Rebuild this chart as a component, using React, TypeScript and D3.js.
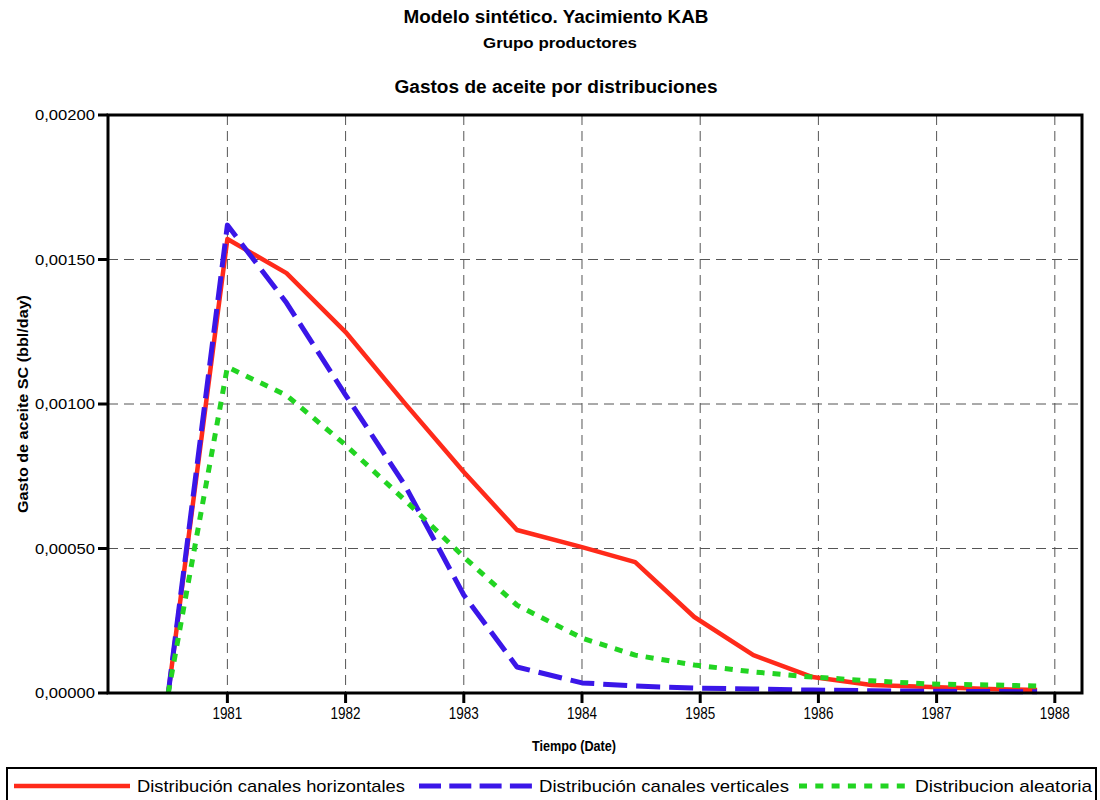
import * as d3 from "d3";

const W = 1100;
const H = 800;
const ML = 108;
const MR = 1082;
const MT = 115;
const MB = 693;

// decimal years of the simulation report steps
const times = [
  1980.5, 1981.0, 1981.5, 1982.0, 1982.5, 1983.0, 1983.45, 1984.0, 1984.45,
  1984.95, 1985.45, 1985.95, 1986.45, 1986.95, 1987.45, 1987.85,
];

const horizontales = [
  0, 0.001571, 0.001453, 0.001249, 0.001003, 0.000765, 0.000564, 0.000505,
  0.000453, 0.000263, 0.000131, 0.000055, 0.000028, 0.000021, 0.000014,
  0.00001,
];

const verticales = [
  0, 0.001619, 0.00135, 0.001031, 0.00072, 0.000339, 0.00009, 0.000035,
  0.000024, 0.000017, 0.000014, 0.00001, 0.000008, 0.000006, 0.000005,
  0.000004,
];

const aleatoria = [
  0, 0.001128, 0.00103, 0.000858, 0.000668, 0.000471, 0.000304, 0.00019,
  0.000131, 0.000097, 0.000073, 0.000055, 0.000042, 0.000031, 0.000028,
  0.000024,
];

const yearTicks = [1981, 1982, 1983, 1984, 1985, 1986, 1987, 1988];
const rateTicks = [0, 0.0005, 0.001, 0.0015, 0.002];

const seriesNames = [
  "Distribución canales horizontales",
  "Distribución canales verticales",
  "Distribucion aleatoria",
];

const esLocale = d3.formatLocale({
  decimal: ",",
  thousands: ".",
  grouping: [3],
  currency: ["", ""],
});
const fmt = esLocale.format(".5f");

export default function App() {
  const x = d3.scaleLinear().domain([1979.99, 1988.23]).range([ML, MR]);
  const y = d3.scaleLinear().domain([0, 0.002]).range([MB, MT]);

  const line = (vals: number[]) =>
    d3
      .line<number>()
      .x((_, i) => x(times[i]))
      .y((d) => y(d))(vals) ?? "";

  const series = [
    { vals: horizontales, color: "#ff2a1a", width: 4.5, dash: undefined },
    { vals: verticales, color: "#3a16e8", width: 5, dash: "24 9" },
    { vals: aleatoria, color: "#22d422", width: 5, dash: "8 8" },
  ];

  const legendItems = [
    { x0: 14, x1: 130, tx: 137, tl: 268 },
    { x0: 419, x1: 532, tx: 539, tl: 250 },
    { x0: 799, x1: 905, tx: 915, tl: 177 },
  ];

  return (
    <svg
      width={W}
      height={H}
      style={{
        position: "absolute",
        left: 0,
        top: 0,
        fontFamily: "'Liberation Sans', Arial, sans-serif",
        background: "#fff",
      }}
    >
      <rect width={W} height={H} fill="#fff" />
      <g fontWeight="bold" textAnchor="middle" fill="#000">
        <text x={556} y={23} fontSize={18} textLength={305} lengthAdjust="spacingAndGlyphs">
          Modelo sintético. Yacimiento KAB
        </text>
        <text x={560} y={48} fontSize={14} textLength={154} lengthAdjust="spacingAndGlyphs">
          Grupo productores
        </text>
        <text x={556} y={93} fontSize={18} textLength={323} lengthAdjust="spacingAndGlyphs">
          Gastos de aceite por distribuciones
        </text>
      </g>

      {/* grid */}
      <g stroke="#555" strokeWidth={1} strokeDasharray="10 6">
        {yearTicks.map((t) => (
          <line key={`gx${t}`} x1={x(t)} x2={x(t)} y1={MT} y2={MB} />
        ))}
        {rateTicks.slice(1, -1).map((t) => (
          <line key={`gy${t}`} x1={ML} x2={MR} y1={y(t)} y2={y(t)} />
        ))}
      </g>

      {/* series */}
      {series.map((s, i) => (
        <path
          key={i}
          d={line(s.vals)}
          fill="none"
          stroke={s.color}
          strokeWidth={s.width}
          strokeDasharray={s.dash}
          strokeLinejoin="round"
        />
      ))}

      {/* frame */}
      <rect
        x={ML}
        y={MT}
        width={MR - ML}
        height={MB - MT}
        fill="none"
        stroke="#000"
        strokeWidth={3}
      />

      {/* y axis */}
      <g>
        {rateTicks.map((t) => (
          <g key={`ty${t}`}>
            <line x1={ML - 10} x2={ML} y1={y(t)} y2={y(t)} stroke="#000" strokeWidth={3} />
            <text
              x={95}
              y={y(t)}
              dy="0.35em"
              textAnchor="end"
              fontSize={15.5}
              textLength={60}
              lengthAdjust="spacingAndGlyphs"
            >
              {fmt(t)}
            </text>
          </g>
        ))}
        <text
          transform={`translate(28,${(MT + MB) / 2}) rotate(-90)`}
          textAnchor="middle"
          fontWeight="bold"
          fontSize={15}
          textLength={218}
          lengthAdjust="spacingAndGlyphs"
        >
          Gasto de aceite SC (bbl/day)
        </text>
      </g>

      {/* x axis */}
      <g>
        {yearTicks.map((t) => (
          <g key={`tx${t}`}>
            <line x1={x(t)} x2={x(t)} y1={MB} y2={MB + 10} stroke="#000" strokeWidth={3} />
            <text x={x(t)} y={719} textAnchor="middle" fontSize={17} textLength={30} lengthAdjust="spacingAndGlyphs">
              {t}
            </text>
          </g>
        ))}
        <text x={574} y={751} textAnchor="middle" fontWeight="bold" fontSize={15} textLength={84} lengthAdjust="spacingAndGlyphs">
          Tiempo (Date)
        </text>
      </g>

      {/* legend */}
      <rect x={7} y={768} width={1089} height={40} fill="none" stroke="#000" strokeWidth={2} />
      {legendItems.map((l, i) => (
        <g key={`lg${i}`}>
          <line
            x1={l.x0}
            x2={l.x1}
            y1={786}
            y2={786}
            stroke={series[i].color}
            strokeWidth={series[i].width}
            strokeDasharray={i === 1 ? "22 8.3" : i === 2 ? "8 8.3" : undefined}
          />
          <text x={l.tx} y={792} fontSize={17} textLength={l.tl} lengthAdjust="spacingAndGlyphs">
            {seriesNames[i]}
          </text>
        </g>
      ))}
    </svg>
  );
}
